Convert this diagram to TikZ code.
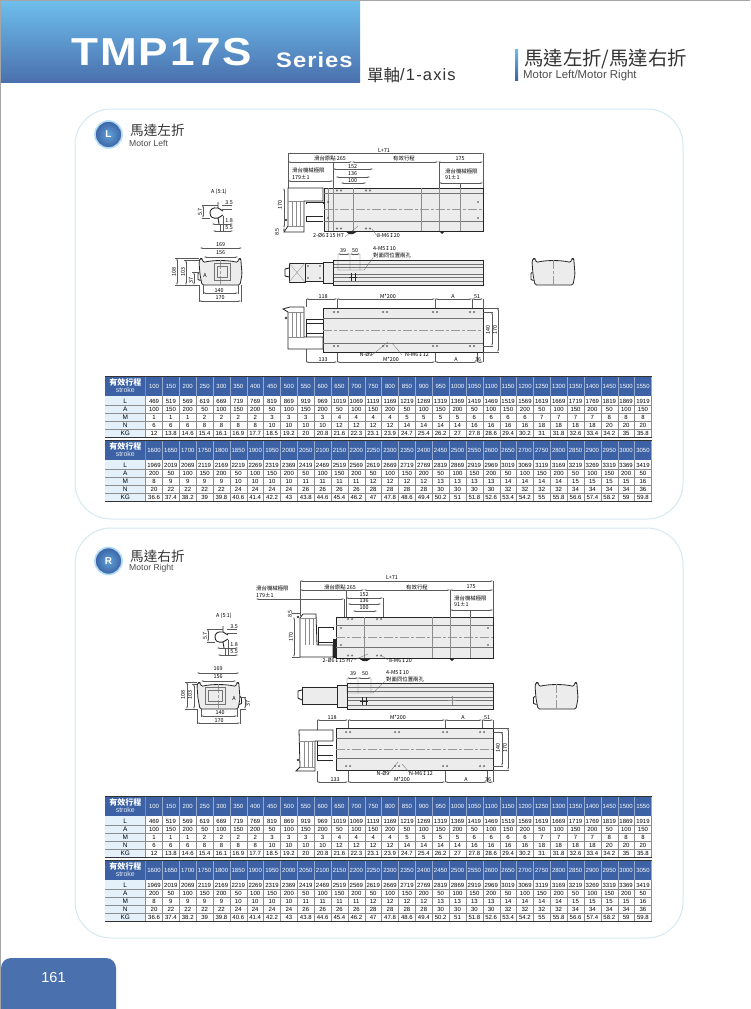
\documentclass[tikz,border=0pt]{standalone}
\usepackage{fontspec}
\setmainfont{Liberation Sans}
\newfontfamily\cjkfont{Noto Sans CJK TC}
\newfontfamily\titlefont[LetterSpace=5,FakeStretch=1.13]{Liberation Sans}
\newfontfamily\axisfont[LetterSpace=7]{Liberation Sans}
\newfontfamily\symfont{DejaVu Sans}
\usetikzlibrary{arrows.meta}
\definecolor{specblue}{RGB}{60,98,165}
\definecolor{skyblue}{RGB}{110,190,236}
\definecolor{tabblue}{RGB}{74,112,173}
\definecolor{panelline}{RGB}{214,233,241}
\definecolor{speclabel}{RGB}{228,241,251}
\definecolor{bodygray}{RGB}{236,236,236}
\definecolor{inkgray}{RGB}{90,90,90}
\newcommand{\px}[1]{\fontsize{#1}{#1}\selectfont}
\newcommand{\depthmark}{{\symfont ↧}}

\newcommand{\listAa}{100,150,200,50,100,150,200,50,100,150,200,50,100,150,200,50,100,150,200,50,100,150,200,50,100,150,200,50,100,150}
\newcommand{\listMa}{1,1,1,2,2,2,2,3,3,3,3,4,4,4,4,5,5,5,5,6,6,6,6,7,7,7,7,8,8,8}
\newcommand{\listNa}{6,6,6,8,8,8,8,10,10,10,10,12,12,12,12,14,14,14,14,16,16,16,16,18,18,18,18,20,20,20}
\newcommand{\listKa}{12,13.8,14.6,15.4,16.1,16.9,17.7,18.5,19.2,20,20.8,21.6,22.3,23.1,23.9,24.7,25.4,26.2,27,27.8,28.6,29.4,30.2,31,31.8,32.6,33.4,34.2,35,35.8}
\newcommand{\listAb}{200,50,100,150,200,50,100,150,200,50,100,150,200,50,100,150,200,50,100,150,200,50,100,150,200,50,100,150,200,50}
\newcommand{\listMb}{8,9,9,9,9,10,10,10,10,11,11,11,11,12,12,12,12,13,13,13,13,14,14,14,14,15,15,15,15,16}
\newcommand{\listNb}{20,22,22,22,22,24,24,24,24,26,26,26,26,28,28,28,28,30,30,30,30,32,32,32,32,34,34,34,34,36}
\newcommand{\listKb}{36.6,37.4,38.2,39,39.8,40.6,41.4,42.2,43,43.8,44.6,45.4,46.2,47,47.8,48.6,49.4,50.2,51,51.8,52.6,53.4,54.2,55,55.8,56.6,57.4,58.2,59,59.8}

% name, row label, y of the row, list
\newcommand{\specrow}[4]{
    \node[rowhead] (#1-0) at (125.3,#3) {#2};
    \foreach \v [count=\c, evaluate=\c as \cx using {145.6+16.86*(\c-.5)}] in #4 {
        \node[cellval] (#1-\c) at (\cx,#3) {\v};
    }
}
% name, top y, first stroke, A, M, N, KG
\newcommand{\specblock}[7]{
    \fill[speclabel] (105,#2+19.5) rectangle (145.6,#2+61);
    \fill[specblue] (105,#2) rectangle (651.5,#2+19.5);
    \node[headcjk] (#1-head) at (125.3,#2+6.5) {有效行程};
    \node[headsub] (#1-sub) at (125.3,#2+14) {stroke};
    \foreach \c [evaluate=\c as \cx using {145.6+16.86*(\c-.5)}] in {1,...,30} {
        \pgfmathtruncatemacro{\sv}{#3+50*(\c-1)}
        \pgfmathtruncatemacro{\lv}{\sv+369}
        \node[headval] (#1-s-\c) at (\cx,#2+10) {\sv};
        \node[cellval] (#1-l-\c) at (\cx,#2+25) {\lv};
        \draw[headsep] (\cx+8.43,#2) -- (\cx+8.43,#2+19.5);
        \draw[cellsep] (\cx+8.43,#2+19.5) -- (\cx+8.43,#2+61);
    }
    \draw[cellsep] (145.6,#2) -- (145.6,#2+61);
    \node[rowhead] (#1-l-0) at (125.3,#2+25) {L};
    \specrow{#1-a}{A}{#2+33}{#4}
    \specrow{#1-m}{M}{#2+41}{#5}
    \specrow{#1-n}{N}{#2+49}{#6}
    \specrow{#1-k}{KG}{#2+57}{#7}
    \foreach \ry in {29,37,45,53} {
        \draw[cellsep] (105,#2+\ry) -- (651.5,#2+\ry);
    }
    \draw[tabletop] (105,#2) -- (651.5,#2);
    \draw[tablebot] (105,#2+61) -- (651.5,#2+61);
}
% left, right, top, bottom, first long line, second long line
\newcommand{\railplate}[6]{
    \draw[railbody] (#1,#3) rectangle (#2,#4);
    \draw[railedge] (#1,#5) -- (#2,#5) (#1,#6) -- (#2,#6);
    \draw[railcentre] (#1,{(#3+#4)/2}) -- (#2,{(#3+#4)/2});
}
% the same plate seen from the side, left, right, top, bottom
\newcommand{\railside}[4]{
    \draw[railbody] (#1,#3) rectangle (#2,#4);
    \foreach \f in {.18,.3,.55,.68,.85} {
        \draw[railedge] (#1,{#3+\f*(#4-#3)}) -- (#2,{#3+\f*(#4-#3)});
    }
}
\newcommand{\holepair}[2]{
    \draw[holeline] (#1-2,#2) circle (.8) (#1+2,#2) circle (.8);
}
% end view, 43 wide and 27 high, from its top left corner
\newcommand{\railsection}{
    \draw[railbody, rounded corners=1.5] (0,3) -- (1,0) -- (3.5,0) -- (4,4) .. controls (14,1.5) and (29,1.5) .. (39,4) -- (39.5,0) -- (42,0) -- (42,3) -- (43,16) -- (41,26.5) -- (3,26.5) -- (1,16) -- cycle;
    \draw[railcentre] (21.5,1) -- (21.5,27);
}
% A detail, prefix for the node names
\newcommand{\detailA}[1]{
    \node[dimtext] (#1-scale) at (219,192) {A (5:1)};
    \draw[railheavy] (218,202) -- (218,208) .. controls (212,207) and (210,210) .. (210,213) .. controls (210,217) and (213,219) .. (218,218) -- (219,224);
    \draw[railheavy] (218,208) -- (223,211) (218,218) -- (223,215);
    \draw[dimline] (203,205) -- (203,218);
    \draw[extline] (202,205) -- (218,205) (202,218) -- (210,218) (222,205) -- (232,205) (222,209) -- (232,209) (220,224) -- (220,231) (223,216) -- (223,231);
    \draw[dimline] (213,231) -- (233,231);
    \draw[dimline] (212,224) -- (233,224);
    \node[dimtext] (#1-a) at (229,203) {3.5};
    \node[dimtext] (#1-b) at (229,221) {1.8};
    \node[dimtext] (#1-c) at (229,228) {5.5};
    \node[dimtext, rotate=90] (#1-d) at (200,212) {5.7};
}

\begin{document}
\begin{tikzpicture}[x=1pt, y=-1pt,
    >={Stealth[length=2.5pt,width=1.2pt]},
    headcjk/.style={font=\cjkfont\bfseries\px{8}, text=white, inner sep=0pt},
    headsub/.style={font=\px{7}, text=white!85!specblue, inner sep=0pt},
    headval/.style={font=\px{6}, text=white, inner sep=0pt},
    cellval/.style={font=\px{6}, text=black, inner sep=0pt},
    rowhead/.style={font=\px{6.5}, text=black, inner sep=0pt},
    headsep/.style={draw=white!45!specblue, line width=.3pt},
    cellsep/.style={draw=black!45, line width=.3pt},
    tabletop/.style={draw=black!80, line width=.9pt},
    tablebot/.style={draw=black!80, line width=.7pt},
    panelframe/.style={draw=panelline, line width=1pt, rounded corners=36pt},
    railbody/.style={draw=black!85, fill=bodygray, line width=.8pt},
    railheavy/.style={draw=black!85, line width=.9pt},
    railedge/.style={draw=black!55, line width=.4pt},
    railthin/.style={draw=black!45, line width=.3pt},
    railcentre/.style={draw=black!40, line width=.3pt, dash pattern=on 9pt off 2pt on 3pt off 2pt},
    holeline/.style={draw=black!65, line width=.3pt},
    holedot/.style={fill=black!75},
    dimline/.style={<->, draw=inkgray, line width=.25pt},
    extline/.style={draw=inkgray, line width=.25pt},
    dimtext/.style={font=\cjkfont\px{5.4}, text=black, inner sep=0pt},
    leftnote/.style={font=\cjkfont\px{5.4}, text=black, inner sep=0pt, anchor=west},
    badgeball/.style={circle, draw=white!45!skyblue, line width=1.6pt, inner color=skyblue!70!specblue, outer color=specblue, minimum size=27pt, inner sep=0pt, text=white, font=\bfseries\px{10}},
    cjktitle/.style={font=\cjkfont\px{13.6}, text=black!80, inner sep=0pt, anchor=west},
    entitle/.style={font=\px{8.6}, text=black!70, inner sep=0pt, anchor=west}
]
\useasboundingbox (0,0) rectangle (750,1009);
\fill[white] (0,0) rectangle (750,1009);

% page header
\shade[top color=skyblue, bottom color=tabblue] (1,1) rectangle (360,82);
\node[font=\titlefont\bfseries\px{39}, text=white, inner sep=0pt, anchor=west] (seriesname) at (71,52.5) {TMP17S};
\node[font=\titlefont\bfseries\px{21}, text=white, inner sep=0pt, anchor=west] (serieslabel) at (276,59.5) {Series};
\node[font=\cjkfont\px{16.5}, text=black!80, inner sep=0pt, anchor=west] (axiscjk) at (367,75) {單軸};
\node[font=\axisfont\px{16.5}, text=black!80, inner sep=0pt, anchor=west] (axisname) at (400,75) {/1-axis};
\shade[top color=skyblue, bottom color=specblue] (515,49) rectangle (518,80);
\node[font=\cjkfont\px{19.4}, text=black!80, inner sep=0pt, anchor=west] (modecjk) at (524,59.5) {馬達左折/馬達右折};
\node[font=\px{11.4}, text=black!70, inner sep=0pt, anchor=west] (modeen) at (523,75.5) {Motor Left/Motor Right};

% panels
\draw[panelframe] (75,109) rectangle (683,519);
\draw[panelframe] (75,528) rectangle (683,938);
\node[badgeball] (badgeL) at (108.5,134.5) {L};
\node[cjktitle] (motorcjkL) at (130,130.5) {馬達左折};
\node[entitle] (motorenL) at (129,143) {Motor Left};
\node[badgeball] (badgeR) at (108.5,561) {R};
\node[cjktitle] (motorcjkR) at (130,556) {馬達右折};
\node[entitle] (motorenR) at (129,568) {Motor Right};

% motor left, top view
\draw[extline] (288,153) -- (288,188) (483,153) -- (483,188) (439,162) -- (439,190) (333,162) -- (333,190) (460,183) -- (460,190);
\draw[dimline] (288,153.5) -- (483,153.5);
\draw[dimline] (288,162) -- (352,162);
\draw[dimline] (352,162) -- (438,162);
\draw[dimline] (438,162) -- (483,162);
\draw[dimline] (288,181) -- (333,181);
\draw[dimline] (439,183) -- (483,183);
\draw[dimline] (333,169) -- (373,169);
\draw[dimline] (336,177) -- (370,177);
\draw[dimline] (341,183) -- (366,183);
\node[dimtext] (lenL) at (384,150.5) {L+71};
\node[dimtext] (originL) at (330,158) {滑台原點 265};
\node[dimtext] (travelL) at (404,158.5) {有效行程};
\node[dimtext] (endL) at (460,159) {175};
\node[leftnote] (limitL) at (292,170) {滑台機械極限};
\node[leftnote] (limitvalL) at (292,177) {179±1};
\node[leftnote] (limitrL) at (445,171) {滑台機械極限};
\node[leftnote] (limitrvalL) at (445,177.5) {91±1};
\node[dimtext] (wideL) at (352.5,166.5) {152};
\node[dimtext] (midL) at (352.5,174) {136};
\node[dimtext] (smallL) at (352.5,181) {100};
\railplate{324}{483}{188}{231}{193}{221}
\foreach \vx in {328,333,353,421,439,460} {
    \draw[railthin] (\vx,188) -- (\vx,231);
}
\foreach \dotx/\doty in {328/202,328/218,478/202,478/218} {
    \fill[holedot] (\dotx,\doty) circle (.9);
}
\foreach \hx in {339,368} {
    \holepair{\hx}{190.5}
    \holepair{\hx}{228.5}
}
\draw[railbody, fill=white] (288,188) -- (323,188) -- (323,201) -- (304,201) -- (304,232) -- (284,232) -- (288,226) -- cycle;
\draw[railthin] (292,201) -- (292,226) (296,201) -- (296,226) (300,201) -- (300,226) (288,201) -- (304,201) (288,226) -- (304,226);
\draw[railheavy] (306,204) -- (306,202) -- (323,202) -- (323,204) (306,216) -- (306,221) -- (323,221) (306,216) -- (323,216);
\fill[holedot] (286,220) circle (1.3);
\draw[dimline] (284,188) -- (284,228);
\draw[dimline] (284,228) -- (284,232);
\node[dimtext, rotate=90] (h170L) at (280,205) {170};
\node[dimtext, rotate=90] (h85L) at (277,232) {8.5};
\node[dimtext] (dowelL) at (328.5,236) {2-Ø6\depthmark15 H7};
\node[dimtext] (tapL) at (388.5,236) {8-M6\depthmark20};
\draw[extline] (345,237) -- (358,226) (378,237) -- (372,229);
\fill[black!85] (345,231) -- (358,231) -- (353,234) -- (349,234) -- cycle;
\fill[black!85] (439,231) -- (445,231) -- (442,234) -- cycle;

% motor left, A detail and end views
\detailA{detL}
\begin{scope}[shift={(199,258.5)}]
    \railsection
    \draw[railedge] (15,5) rectangle (31,22) (18,8) rectangle (28,19);
    \draw[railheavy] (0,14) -- (-1,15) -- (-1,21) -- (1.5,22);
\end{scope}
\node[dimtext] (w169L) at (220.5,245) {169};
\node[dimtext] (w156L) at (220.5,253) {156};
\node[dimtext] (w140L) at (219,290.5) {140};
\node[dimtext] (w170L) at (220,298) {170};
\node[dimtext, rotate=90] (h108L) at (174,272) {108};
\node[dimtext, rotate=90] (h103L) at (183,272) {103};
\node[dimtext, rotate=90] (h37L) at (191,280) {37};
\node[dimtext] (markL) at (205,276) {A};
\draw[dimline] (200,248) -- (242,248);
\draw[dimline] (204,257) -- (238,257);
\draw[dimline] (203,293) -- (238,293);
\draw[dimline] (199,301) -- (241,301);
\draw[dimline] (177,258) -- (177,285);
\draw[dimline] (186,260) -- (186,285);
\draw[dimline] (194,272) -- (194,285);
\draw[extline] (175,258) -- (199,258) (184,260) -- (199,260) (175,285) -- (199,285) (192,272) -- (199,272) (199,285) -- (199,302) (241,285) -- (241,302) (203,285) -- (203,294) (238,285) -- (238,294);
\begin{scope}[shift={(532,258.5)}]
    \railsection
    \draw[railheavy] (0,14) -- (-1,15) -- (-1,21) -- (1.5,22);
\end{scope}

% motor left, side view
\railside{333}{483}{260}{285}
\draw[railbody] (323,262.5) rectangle (333,283.5);
\draw[railbody] (305,263) rectangle (323,281.5);
\draw[railbody] (289,263) rectangle (305,282);
\draw[railthin] (289,263) -- (305,282) (289,282) -- (305,263);
\draw[railheavy] (289,268) -- (285,269) -- (285,276) -- (289,277);
\foreach \dotx/\doty in {308/266,320/266,308/278,320/278} {
    \fill[holedot] (\dotx,\doty) circle (.9);
}
\draw[extline] (338,254) -- (338,270) (350,254) -- (350,270) (360,254) -- (360,270) (338,270) -- (364,270) -- (373,258);
\draw[dimline] (338,254) -- (350,254);
\draw[dimline] (350,254) -- (360,254);
\node[dimtext] (v39L) at (343,251) {39};
\node[dimtext] (v50L) at (355,251) {50};
\node[leftnote] (sideholeL) at (373,249) {4-M5\depthmark10};
\node[leftnote] (sidenoteL) at (373,255) {對面同位置兩孔};
\draw[railheavy] (349,277) -- (357,277) (351,273) -- (351,281) (355,273) -- (355,281);

% motor left, bottom view
\draw[extline] (306,299) -- (306,307) (306,349) -- (306,362) (337,299) -- (337,310) (337,347) -- (337,362) (435,299) -- (435,312) (472,299) -- (472,310) (435,347) -- (435,362) (477,347) -- (477,362) (483,299) -- (483,308) (483,353) -- (483,362);
\draw[dimline] (306,299) -- (337,299);
\draw[dimline] (337,299) -- (435,299);
\draw[dimline] (435,299) -- (472,299);
\draw[dimline] (472,299) -- (483,299);
\draw[dimline] (306,362) -- (337,362);
\draw[dimline] (337,362) -- (435,362);
\draw[dimline] (435,362) -- (477,362);
\draw[dimline] (477,362) -- (483,362);
\node[dimtext] (b118L) at (323,296.5) {118};
\node[dimtext] (bmL) at (388,296.5) {M*200};
\node[dimtext] (baL) at (453,296.5) {A};
\node[dimtext] (b51L) at (477,296.5) {51};
\railplate{323}{483}{308}{352}{318}{343}
\foreach \hx in {336,385,435,472} {
    \holepair{\hx}{312}
    \holepair{\hx}{346}
}
\draw[railbody, fill=white] (283,309) -- (290,307) -- (304,307) -- (304,337) -- (323,337) -- (323,349) -- (288,349) -- (288,312) -- cycle;
\draw[railthin] (292,312) -- (292,337) (296,312) -- (296,337) (300,312) -- (300,337) (288,337) -- (304,337) (288,312) -- (304,312);
\draw[railheavy] (306,337) -- (306,319) -- (323,319) (306,323) -- (323,323) (306,333) -- (323,333);
\fill[holedot] (286,318) circle (1.3);
\draw[extline] (372,355) -- (388,342);
\draw[extline] (402,355) -- (392,343);
\node[dimtext] (nholeL) at (366,354.5) {N-Ø9};
\node[dimtext] (ntapL) at (417,354.5) {N-M6\depthmark12};
\node[dimtext] (tmL) at (391,359.5) {M*200};
\node[dimtext] (t133L) at (323,359.5) {133};
\node[dimtext] (taL) at (456,359.5) {A};
\node[dimtext] (t36L) at (478,359.5) {36};
\draw[dimline] (492,312) -- (492,346);
\draw[dimline] (498,308) -- (498,352);
\draw[extline] (483,312) -- (493,312) (483,346) -- (493,346) (483,308) -- (499,308) (483,352) -- (499,352);
\node[dimtext, rotate=90] (w140bL) at (488,330) {140};
\node[dimtext, rotate=90] (w170bL) at (495,330) {170};

% strokes, motor left
\specblock{leftlow}{376}{100}{\listAa}{\listMa}{\listNa}{\listKa}
\specblock{lefthigh}{440}{1600}{\listAb}{\listMb}{\listNb}{\listKb}

% motor right, top view
\draw[extline] (300,581) -- (300,616) (493,581) -- (493,617) (450,590) -- (450,617) (344,599) -- (344,617) (470,610) -- (470,617) (346,590) -- (346,617) (383,598) -- (383,617);
\draw[dimline] (300,581) -- (493,581);
\draw[dimline] (300,590) -- (364,590);
\draw[dimline] (364,590) -- (450,590);
\draw[dimline] (450,590) -- (493,590);
\draw[dimline] (256,599) -- (344,599);
\draw[dimline] (450,610) -- (493,610);
\draw[dimline] (346,598) -- (383,598);
\draw[dimline] (348,604) -- (381,604);
\draw[dimline] (353,611) -- (377,611);
\node[dimtext] (lenR) at (392,578) {L+71};
\node[dimtext] (originR) at (340,587) {滑台原點 265};
\node[dimtext] (travelR) at (417,587) {有效行程};
\node[dimtext] (endR) at (471,587) {175};
\node[leftnote] (limitR) at (256,588) {滑台機械極限};
\node[leftnote] (limitvalR) at (256,595) {179±1};
\node[leftnote] (limitrR) at (454,598) {滑台機械極限};
\node[leftnote] (limitrvalR) at (454,604.5) {91±1};
\node[dimtext] (wideR) at (364,594.5) {152};
\node[dimtext] (midR) at (364,601) {136};
\node[dimtext] (smallR) at (364,608) {100};
\railplate{336}{493}{617}{658}{625}{647}
\foreach \vx in {364,432,450,470} {
    \draw[railthin] (\vx,617) -- (\vx,658);
}
\foreach \dotx/\doty in {341/628,341/645,488/628,488/645} {
    \fill[holedot] (\dotx,\doty) circle (.9);
}
\foreach \hx in {350,379} {
    \holepair{\hx}{619}
    \holepair{\hx}{655.5}
}
\draw[railbody, fill=white] (300,618) -- (303,614) -- (316,614) -- (317,645) -- (333,645) -- (333,657) -- (300,657) -- cycle;
\draw[railthin] (305,618) -- (305,645) (309,618) -- (309,645) (313,618) -- (313,645) (300,618) -- (317,618);
\draw[railheavy] (318,645) -- (318,627) -- (333,627) -- (333,630) (318,642) -- (333,642);
\fill[black!85] (333,639) rectangle (336,658);
\fill[holedot] (298,617) circle (1.3);
\draw[dimline] (294,617) -- (294,657);
\draw[extline] (292,613) -- (300,613) (292,657) -- (300,657);
\node[dimtext, rotate=90] (h170R) at (291,637) {170};
\node[dimtext, rotate=90] (h85R) at (290,614) {8.5};
\node[dimtext] (dowelR) at (338,661) {2-Ø6\depthmark15 H7};
\node[dimtext] (tapR) at (400.5,661) {8-M6\depthmark20};
\draw[extline] (354,660) -- (368,654) (388,660) -- (382,656);
\fill[black!85] (358,658) -- (372,658) -- (367,661) -- (363,661) -- cycle;
\fill[black!85] (449,658) -- (455,658) -- (452,661) -- cycle;

% motor right, A detail and end views
\begin{scope}[shift={(5,424)}]
    \detailA{detR}
\end{scope}
\begin{scope}[shift={(197,682.5)}]
    \railsection
    \draw[railedge] (8,5) rectangle (28,22) (11,8) rectangle (25,19);
    \draw[railheavy] (43,14) -- (44.5,15) -- (44.5,21) -- (42,22);
\end{scope}
\node[dimtext] (w169R) at (218,669) {169};
\node[dimtext] (w156R) at (218,677) {156};
\node[dimtext] (w140R) at (220,713) {140};
\node[dimtext] (w170R) at (219,720.5) {170};
\node[dimtext, rotate=90] (h108R) at (183,695) {108};
\node[dimtext, rotate=90] (h103R) at (190,695) {103};
\node[dimtext, rotate=90] (h37R) at (248,703) {37};
\node[dimtext] (markR) at (234,699) {A};
\draw[dimline] (197,673) -- (239,673);
\draw[dimline] (201,681) -- (236,681);
\draw[dimline] (201,716) -- (237,716);
\draw[dimline] (197,723) -- (240,723);
\draw[dimline] (187,682) -- (187,709);
\draw[dimline] (194,684) -- (194,709);
\draw[dimline] (245,697) -- (245,709);
\draw[extline] (185,682) -- (197,682) (192,684) -- (197,684) (185,709) -- (197,709) (240,697) -- (246,697) (240,709) -- (246,709) (197,709) -- (197,724) (240,709) -- (240,724) (201,709) -- (201,717) (237,709) -- (237,717);
\begin{scope}[shift={(535,682.5)}]
    \railsection
    \draw[railheavy] (0,14) -- (-1.5,15) -- (-1.5,21) -- (1.5,22);
\end{scope}

% motor right, side view
\railside{347}{493}{683}{709}
\draw[railbody] (337,685) rectangle (347,707);
\draw[railbody] (302,687) rectangle (337,704);
\draw[railheavy] (302,690) -- (298,691) -- (298,698) -- (302,700);
\draw[extline] (347,678) -- (347,693) (358,678) -- (358,693) (371,678) -- (371,693) (347,693) -- (373,693) -- (385,681);
\draw[dimline] (347,678) -- (358,678);
\draw[dimline] (358,678) -- (371,678);
\node[dimtext] (v39R) at (353,674) {39};
\node[dimtext] (v50R) at (365,674) {50};
\node[leftnote] (sideholeR) at (386,673) {4-M5\depthmark10};
\node[leftnote] (sidenoteR) at (386,679) {對面同位置兩孔};
\draw[railheavy] (360,701) -- (368,701) (362,697) -- (362,705) (366,697) -- (366,705);
\draw[railthin] (448,700) -- (456,700) (452,696) -- (452,705);

% motor right, bottom view
\draw[extline] (317,720) -- (317,730) (317,771) -- (317,782) (348,720) -- (348,730) (348,768) -- (348,782) (445,720) -- (445,730) (482,720) -- (482,730) (445,768) -- (445,782) (487,770) -- (487,782) (493,720) -- (493,728) (493,770) -- (493,782);
\draw[dimline] (317,720) -- (348,720);
\draw[dimline] (348,720) -- (445,720);
\draw[dimline] (445,720) -- (482,720);
\draw[dimline] (482,720) -- (493,720);
\draw[dimline] (317,782) -- (348,782);
\draw[dimline] (348,782) -- (445,782);
\draw[dimline] (445,782) -- (487,782);
\draw[dimline] (487,782) -- (493,782);
\node[dimtext] (b118R) at (332,717.5) {118};
\node[dimtext] (bmR) at (398,717.5) {M*200};
\node[dimtext] (baR) at (463,717.5) {A};
\node[dimtext] (b51R) at (487,717.5) {51};
\railplate{336}{493}{728}{770}{738}{758}
\foreach \hx in {348,397,445,482} {
    \holepair{\hx}{732}
    \holepair{\hx}{766}
}
\draw[railbody, fill=white] (299,730) -- (333,730) -- (333,741) -- (315,741) -- (315,771) -- (296,771) -- (300,767) -- cycle;
\draw[railthin] (304,741) -- (304,767) (308,741) -- (308,767) (312,741) -- (312,767) (300,741) -- (315,741) (300,767) -- (315,767);
\draw[railheavy] (317,741) -- (317,760) -- (333,760) (317,745) -- (333,745) (317,755) -- (333,755);
\fill[holedot] (298,760) circle (1.3);
\draw[extline] (388,774) -- (398,762);
\draw[extline] (410,773) -- (402,764);
\node[dimtext] (nholeR) at (383,773.5) {N-Ø9};
\node[dimtext] (ntapR) at (421,773.5) {N-M6\depthmark12};
\node[dimtext] (tmR) at (402,779.5) {M*200};
\node[dimtext] (t133R) at (335,779.5) {133};
\node[dimtext] (taR) at (466,779.5) {A};
\node[dimtext] (t36R) at (488,779.5) {36};
\draw[dimline] (502,732) -- (502,766);
\draw[dimline] (508,728) -- (508,770);
\draw[extline] (493,732) -- (503,732) (493,766) -- (503,766) (493,728) -- (509,728) (493,770) -- (509,770);
\node[dimtext, rotate=90] (w140bR) at (498,748) {140};
\node[dimtext, rotate=90] (w170bR) at (505,748) {170};

% strokes, motor right
\specblock{rightlow}{796}{100}{\listAa}{\listMa}{\listNa}{\listKa}
\specblock{righthigh}{860}{1600}{\listAb}{\listMb}{\listNb}{\listKb}

% page number and edge of the scan
\fill[tabblue, rounded corners=10pt] (1,958) -- (116,958) -- (116,1020) -- (1,1020) -- cycle;
\fill[white] (0,1009) rectangle (130,1025);
\node[font=\px{14.5}, text=white, inner sep=0pt] (pageno) at (53.5,977) {161};
\draw[draw=black!35, line width=1.4pt] (750,.7) -- (.7,.7) -- (.7,1009);
\end{tikzpicture}
\end{document}
